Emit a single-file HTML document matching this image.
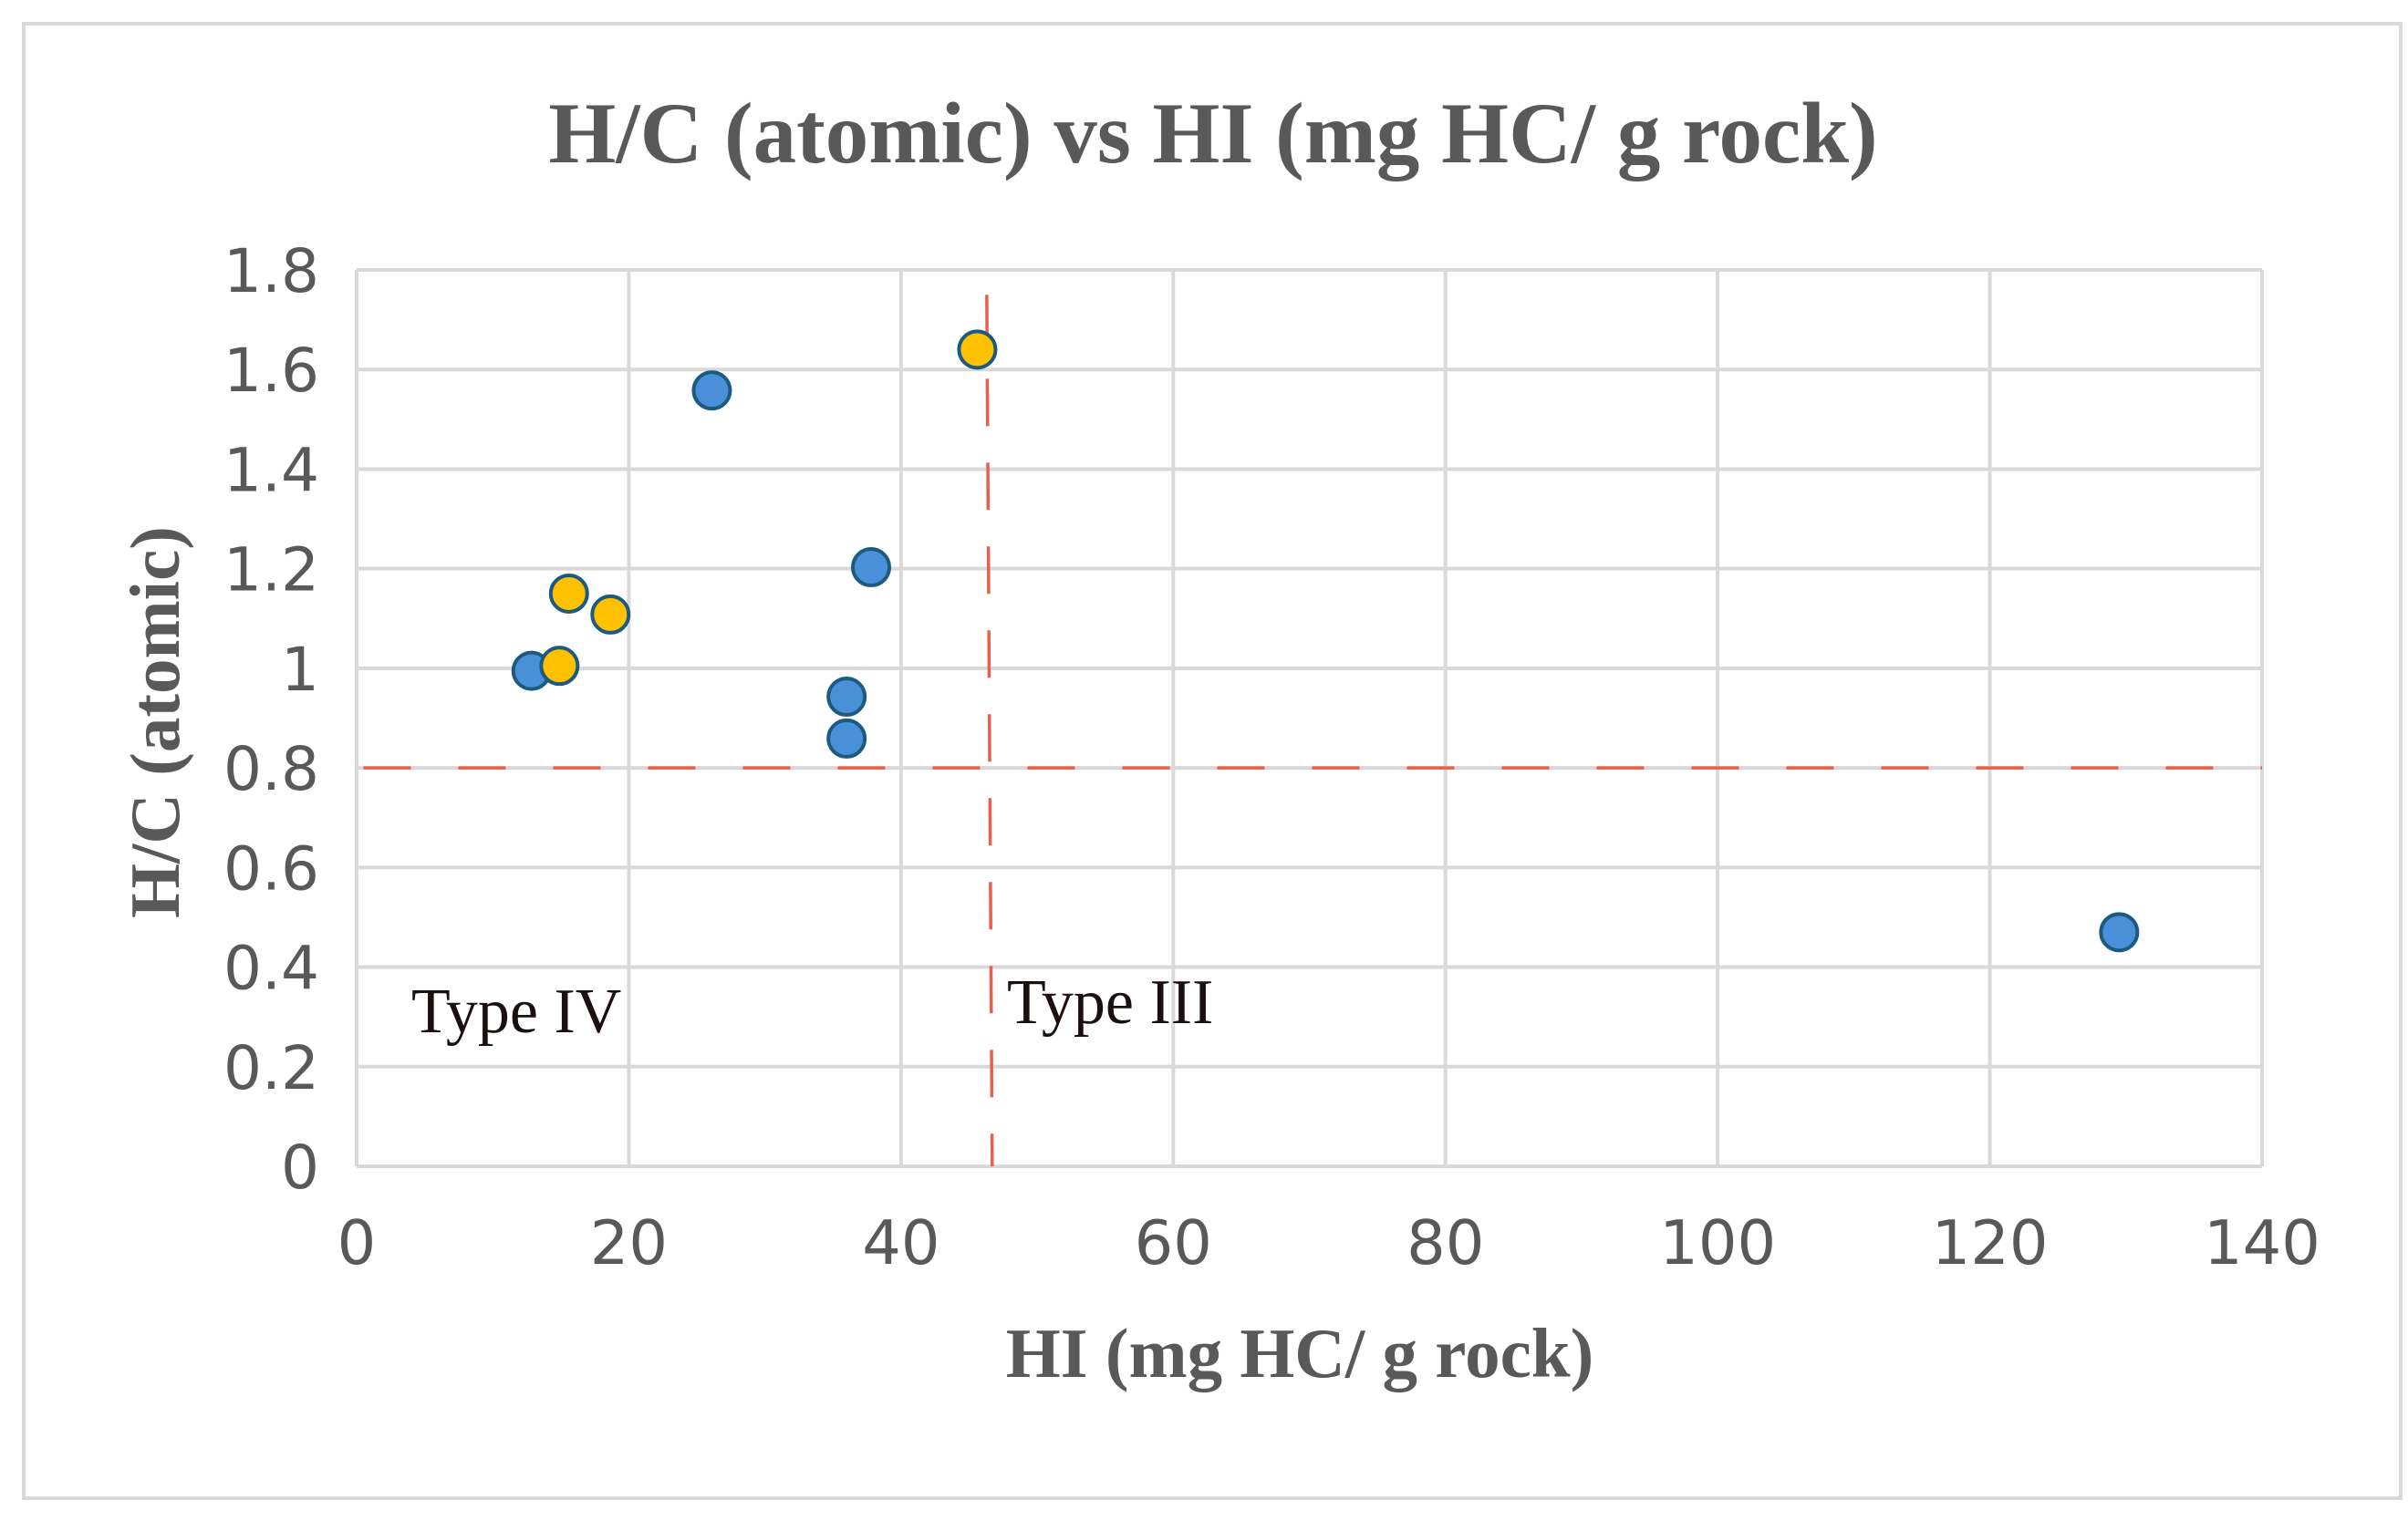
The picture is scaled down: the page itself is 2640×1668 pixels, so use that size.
<!DOCTYPE html>
<html><head><meta charset="utf-8"><style>
html,body{margin:0;padding:0;background:#fff;}
svg{display:block;}
</style></head><body>
<svg id="chart" width="2640" height="1668" xmlns="http://www.w3.org/2000/svg">
<rect x="26" y="26" width="2606" height="1617" fill="#fff" stroke="#d9d9d9" stroke-width="4"/>
<text x="1330" y="178" text-anchor="middle" font-family="Liberation Serif, serif" font-weight="bold" font-size="95" fill="#595959">H/C (atomic) vs HI (mg HC/ g rock)</text>
<g id="grid"></g>
<g id="ticks"></g>
<g id="refs"></g>
<g id="points"></g>
<text x="1425" y="1510" text-anchor="middle" font-family="Liberation Serif, serif" font-weight="bold" font-size="77" fill="#595959">HI (mg HC/ g rock)</text>
<text transform="translate(196,792) rotate(-90)" text-anchor="middle" font-family="Liberation Serif, serif" font-weight="bold" font-size="77" fill="#595959">H/C (atomic)</text>
<text x="451" y="1132" font-family="Liberation Serif, serif" font-size="70" fill="#1a1010">Type IV</text>
<text x="1104" y="1122" font-family="Liberation Serif, serif" font-size="70" fill="#1a1010">Type III</text>
</svg>
<script>
const xTicks = [0,20,40,60,80,100,120,140];
const yTicks = [0,0.2,0.4,0.6,0.8,1,1.2,1.4,1.6,1.8];
const yTickLabels = ["0","0.2","0.4","0.6","0.8","1","1.2","1.4","1.6","1.8"];
const blueX = [12.85,26.1,37.8,36.0,36.0,129.5];
const blueY = [0.995,1.558,1.203,0.943,0.859,0.47];
const yellowX = [14.9,15.6,18.65,45.6];
const yellowY = [1.005,1.15,1.108,1.64];
const hLineY = 0.8;
const vLineX = [46.3,46.7];

const X0=391,X1=2480,Y0=1279,Y1=296;
const sx=v=>X0+(v-0)/(140-0)*(X1-X0);
const sy=v=>Y0-(v-0)/(1.8-0)*(Y0-Y1);
const NS="http://www.w3.org/2000/svg";
function mk(tag,attrs,parent){const e=document.createElementNS(NS,tag);for(const k in attrs)e.setAttribute(k,attrs[k]);parent.appendChild(e);return e;}
const grid=document.getElementById('grid'),ticks=document.getElementById('ticks'),refs=document.getElementById('refs'),pts=document.getElementById('points');
xTicks.forEach(v=>{
  const l=mk('line',{x1:sx(v),x2:sx(v),y1:Y1,y2:Y0,stroke:'#d9d9d9','stroke-width':4},grid);
  
  
  const t=mk('text',{x:sx(v),y:1386,'text-anchor':'middle','font-family':'DejaVu Sans, sans-serif','font-size':67,fill:'#595959'},ticks);
  t.textContent=v;
  
  
});
yTicks.forEach((v,i)=>{
  const l=mk('line',{x1:X0,x2:X1,y1:sy(v),y2:sy(v),stroke:'#d9d9d9','stroke-width':4},grid);
  
  
  const t=mk('text',{x:350,y:sy(v)+24,'text-anchor':'end','font-family':'DejaVu Sans, sans-serif','font-size':66,fill:'#595959'},ticks);
  t.textContent=yTickLabels[i];
  
  
});
const hl=mk('line',{x1:sx(0.5),x2:sx(140),y1:sy(hLineY),y2:sy(hLineY),stroke:'#e8604c','stroke-width':3.5,'stroke-dasharray':'52 52'},refs);


const vl=mk('line',{x1:sx(vLineX[0]),x2:sx(vLineX[1]),y1:sy(1.75),y2:sy(0),stroke:'#e8604c','stroke-width':3.5,'stroke-dasharray':'52 40'},refs);


blueX.forEach((v,i)=>{
  const c=mk('circle',{cx:sx(v),cy:sy(blueY[i]),r:20,fill:'#4a90d9',stroke:'#1d5a80','stroke-width':4},pts);
  
  
});
yellowX.forEach((v,i)=>{
  const c=mk('circle',{cx:sx(v),cy:sy(yellowY[i]),r:20,fill:'#ffc000',stroke:'#1d5a80','stroke-width':4},pts);
  
  
});
</script>
</body></html>
